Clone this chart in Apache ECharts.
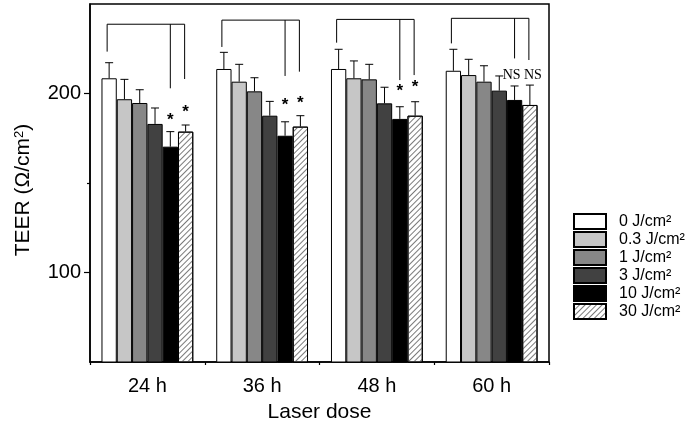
<!DOCTYPE html>
<html>
<head>
<meta charset="utf-8">
<script src="https://cdn.jsdelivr.net/npm/echarts@6/dist/echarts.min.js"></script>
<style>html,body{margin:0;padding:0;background:#fff;}#c{width:687px;height:430px;}</style>
</head>
<body>
<div id="c"></div>
<script>
var categories = ['24 h', '36 h', '48 h', '60 h'];
var doseNames = ['0 J/cm²', '0.3 J/cm²', '1 J/cm²', '3 J/cm²', '10 J/cm²', '30 J/cm²'];
var dose0  = [208.5, 213.7, 213.7, 212.7];
var dose03 = [196.8, 206.6, 208.5, 210.3];
var dose1  = [194.7, 201.2, 207.9, 206.6];
var dose3  = [183.0, 187.6, 194.5, 201.6];
var dose10 = [170.3, 176.4, 185.8, 196.4];
var dose30 = [178.7, 181.5, 187.6, 193.6];
var sd0  = [8.7, 9.3, 11.0, 12.0];
var sd03 = [11.1, 9.7, 9.7, 8.8];
var sd1  = [7.4, 7.6, 8.4, 8.9];
var sd3  = [8.9, 8.0, 9.0, 8.2];
var sd10 = [8.4, 7.8, 6.8, 7.8];
var sd30 = [3.7, 6.1, 7.8, 11.1];
var bracketTop = [238.7, 241.0, 241.4, 242.0];
var legCtrlEnd = [223.4, 226.0, 228.4, 228.0];
var leg10End   = [202.9, 209.8, 207.5, 219.6];
var leg30End   = [208.1, 212.2, 210.3, 218.7];
var sig10 = ['*', '*', '*', 'NS'];
var sig30 = ['*', '*', '*', 'NS'];
var sig10Y = [187.6, 196.0, 203.8, 210.3];
var sig30Y = [191.9, 196.9, 205.7, 210.3];
var yLabelValues = [100, 200];
var yMinorValues = [150];

var means = [dose0, dose03, dose1, dose3, dose10, dose30];
var sds = [sd0, sd03, sd1, sd3, sd10, sd30];
var colors = ['#ffffff', '#c6c6c6', '#878787', '#414141', '#000000', '#ffffff'];
var GAP = 0.2; // barCategoryGap fraction
var NB = 6;

function barCenter(api, cat, i) {
  var c = api.coord([cat, 0])[0];
  var bw = api.size([1, 0])[0];
  var w = bw * (1 - GAP) / NB;
  return c - bw * (1 - GAP) / 2 + (i + 0.5) * w;
}

var barSeries = doseNames.map(function (n, i) {
  var s = {
    name: n, type: 'bar', data: means[i], barGap: 0, barCategoryGap: '20%',
    itemStyle: { color: colors[i], borderColor: '#000', borderWidth: 1 },
    emphasis: { disabled: true }, animation: false
  };
  if (i === 5) {
    s.itemStyle.decal = { symbol: 'rect', symbolSize: 1, dashArrayX: [[1, 0]], dashArrayY: [1, 3], rotation: -Math.PI / 4, color: '#7a7a7a' };
  }
  return s;
});

var errData = [];
for (var i = 0; i < NB; i++) for (var k = 0; k < categories.length; k++) errData.push([k, i, means[i][k], means[i][k] + sds[i][k]]);

var brData = [];
for (var k = 0; k < categories.length; k++) brData.push([k, bracketTop[k], legCtrlEnd[k], leg10End[k], leg30End[k]]);

var sigData = [];
for (var k = 0; k < categories.length; k++) { sigData.push([k, 4, sig10Y[k], sig10[k]]); sigData.push([k, 5, sig30Y[k], sig30[k]]); }

var lineStyle = { stroke: '#000', lineWidth: 1, fill: null };

var option = {
  animation: false,
  grid: { left: 90, right: 138, top: 4, bottom: 68, show: true, borderColor: '#000', borderWidth: 1.5, backgroundColor: 'transparent' },
  legend: {
    data: doseNames, orient: 'vertical', left: 573, top: 213, padding: 0, itemWidth: 32, itemHeight: 15, itemGap: 1,
    selectedMode: false, icon: 'rect',
    textStyle: { fontFamily: 'Liberation Sans', fontSize: 16, lineHeight: 15, color: '#000', padding: [0, 0, 0, 8] }
  },
  xAxis: [{
    type: 'category', data: categories,
    axisLine: { lineStyle: { color: '#000', width: 1.5 } },
    axisTick: { alignWithLabel: true, length: 5, lineStyle: { color: '#000', width: 1.2 } },
    axisLabel: { color: '#000', fontFamily: 'Liberation Sans', fontSize: 20, margin: 14 },
    name: 'Laser dose', nameLocation: 'middle', nameGap: 40,
    nameTextStyle: { color: '#000', fontFamily: 'Liberation Sans', fontSize: 21 }
  }, {
    type: 'value', min: 0, max: 4, interval: 1, position: 'bottom',
    axisLine: { show: false }, axisLabel: { show: false }, splitLine: { show: false },
    axisTick: { show: true, length: 3, lineStyle: { color: '#000', width: 1.2 } }
  }],
  yAxis: [{
    type: 'value', min: 50, max: 250,
    axisLine: { show: true, lineStyle: { color: '#000', width: 1.5 } },
    axisTick: { show: true, length: 6, customValues: yLabelValues, lineStyle: { color: '#000', width: 1.2 } },
    axisLabel: { customValues: yLabelValues, color: '#000', fontFamily: 'Liberation Sans', fontSize: 20, margin: 9 },
    splitLine: { show: false },
    name: 'TEER (Ω/cm{sup|2})', nameLocation: 'middle', nameGap: 56,
    nameTextStyle: { color: '#000', fontFamily: 'Liberation Sans', fontSize: 21, padding: [0, 14, 0, 0],
      rich: { sup: { fontSize: 13, fontFamily: 'Liberation Sans', color: '#000', verticalAlign: 'top', padding: [0, 0, 8, 0] } } }
  }, {
    type: 'value', min: 50, max: 250, position: 'left',
    axisLine: { show: false }, axisLabel: { show: false }, splitLine: { show: false },
    axisTick: { show: true, length: 3, customValues: yMinorValues, lineStyle: { color: '#000', width: 1.2 } }
  }],
  series: barSeries.concat([
    {
      type: 'custom', data: errData, z: 5, silent: true,
      renderItem: function (params, api) {
        var cat = api.value(0), bi = api.value(1);
        var x = barCenter(api, cat, bi);
        var y0 = api.coord([cat, api.value(2)])[1];
        var y1 = api.coord([cat, api.value(3)])[1];
        return { type: 'group', children: [
          { type: 'line', shape: { x1: x, y1: y0, x2: x, y2: y1 }, style: lineStyle },
          { type: 'line', shape: { x1: x - 4, y1: y1, x2: x + 4, y2: y1 }, style: lineStyle }
        ] };
      }
    },
    {
      type: 'custom', data: brData, z: 5, silent: true,
      renderItem: function (params, api) {
        var cat = api.value(0);
        var yt = api.coord([cat, api.value(1)])[1];
        var xc = barCenter(api, cat, 0) - 2;
        var x10 = barCenter(api, cat, 4);
        var x30 = barCenter(api, cat, 5) - 1;
        var yc = api.coord([cat, api.value(2)])[1];
        var y10 = api.coord([cat, api.value(3)])[1];
        var y30 = api.coord([cat, api.value(4)])[1];
        return { type: 'group', children: [
          { type: 'polyline', shape: { points: [[xc, yc], [xc, yt], [x30, yt], [x30, y30]] }, style: lineStyle },
          { type: 'line', shape: { x1: x10, y1: yt, x2: x10, y2: y10 }, style: lineStyle }
        ] };
      }
    },
    {
      type: 'custom', data: sigData, z: 6, silent: true,
      renderItem: function (params, api) {
        var cat = api.value(0), bi = api.value(1);
        var txt = sigData[params.dataIndex][3];
        var x = barCenter(api, cat, bi);
        var y = api.coord([cat, api.value(2)])[1];
        var isStar = txt === '*';
        if (!isStar) x += (bi === 4 ? -3 : 3);
        return { type: 'text', style: {
          text: txt, x: x, y: isStar ? y - 4 : y, align: 'center', verticalAlign: isStar ? 'top' : 'middle',
          fill: '#000', font: isStar ? 'bold 17px "Liberation Sans"' : '14px "Liberation Serif"'
        } };
      }
    }
  ])
};
var chart = echarts.init(document.getElementById('c'), null, { renderer: 'canvas' });
chart.setOption(option);
</script>
</body>
</html>
